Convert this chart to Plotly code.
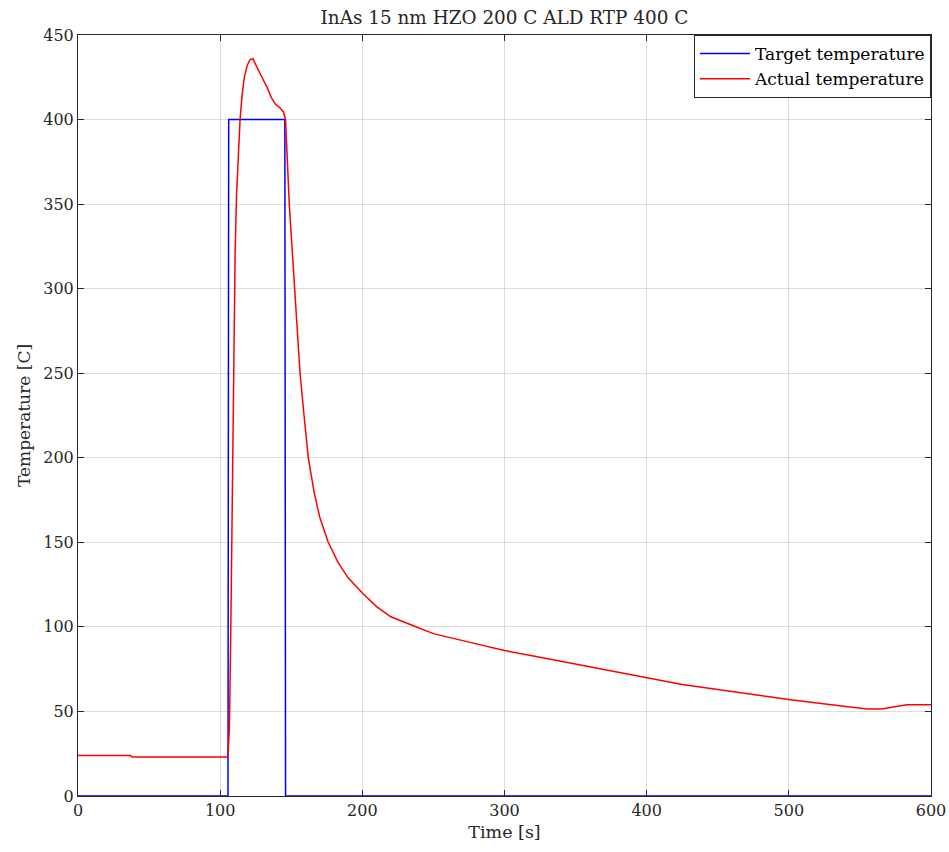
import plotly.graph_objects as go

# Target temperature (setpoint) profile
target_time = [0, 105.5, 106.0, 145.5, 146.0, 600]
target_temp = [0, 0, 400, 400, 0, 0]

# Actual measured temperature
actual_time = [0, 37, 38, 105, 105.5, 106.5, 107.5, 108.5, 109.5, 110.5, 111.5, 112.8, 114,
               115.5, 117, 119, 121, 123, 125, 127, 130, 133, 136, 139, 142, 144.5, 146,
               147, 148.6, 150.5, 152.4, 154.3, 156.2, 159, 162, 166, 170, 176, 183, 190,
               200, 210, 220, 235, 250, 275, 300, 325, 350, 375, 400, 425, 450, 475, 500,
               530, 555, 565, 575, 583, 600]
actual_temp = [24, 24, 23, 23, 24, 40, 100, 180, 260, 320, 355, 382, 400,
               415, 425, 432, 435.5, 436, 432, 429, 424, 419, 413, 409, 407, 404.5, 400,
               380, 350, 325, 300, 275, 250, 225, 200, 180, 165, 150, 138, 129,
               120, 112, 106, 101, 96, 91, 86, 82, 78, 74, 70, 66, 63, 60, 57,
               54, 51.5, 51.5, 53, 54, 54]

x_ticks = [0, 100, 200, 300, 400, 500, 600]
y_ticks = [0, 50, 100, 150, 200, 250, 300, 350, 400, 450]

FONT = "DejaVu Serif, serif"
TXT = "#262626"

fig = go.Figure()
fig.add_trace(go.Scatter(x=target_time, y=target_temp, mode="lines",
                         name="Target temperature",
                         line=dict(color="rgb(0,0,255)", width=1.5)))
fig.add_trace(go.Scatter(x=actual_time, y=actual_temp, mode="lines",
                         name="Actual temperature",
                         line=dict(color="rgb(255,0,0)", width=1.5)))

axis_common = dict(showline=True, linecolor=TXT, linewidth=1, mirror="ticks",
                   ticks="inside", ticklen=6, tickcolor=TXT,
                   showgrid=True, gridcolor="rgba(0,0,0,0.13)", gridwidth=1,
                   zeroline=False, automargin=False,
                   tickfont=dict(family=FONT, size=16, color=TXT))

fig.update_layout(
    width=949, height=852,
    margin=dict(l=78, r=18, t=35, b=56),
    paper_bgcolor="white", plot_bgcolor="white",
    title=dict(text="InAs 15 nm HZO 200 C ALD RTP 400 C", x=0.5316, xanchor="center",
               y=0.987, yanchor="top",
               font=dict(family=FONT, size=18.4, color=TXT)),
    xaxis=dict(range=[0, 600], tickvals=x_ticks,
               title=dict(text="Time [s]", font=dict(family=FONT, size=17.5, color=TXT),
                          standoff=6),
               **axis_common),
    yaxis=dict(range=[0, 450], tickvals=y_ticks,
               title=dict(text="Temperature [C]", font=dict(family=FONT, size=17, color=TXT),
                          standoff=8),
               **axis_common),
    legend=dict(x=1, y=1, xanchor="right", yanchor="top",
                bgcolor="white", bordercolor=TXT, borderwidth=1,
                font=dict(family=FONT, size=17, color="black"),
                itemwidth=50, tracegroupgap=0),
    showlegend=True,
)

fig.write_html("out.html")
